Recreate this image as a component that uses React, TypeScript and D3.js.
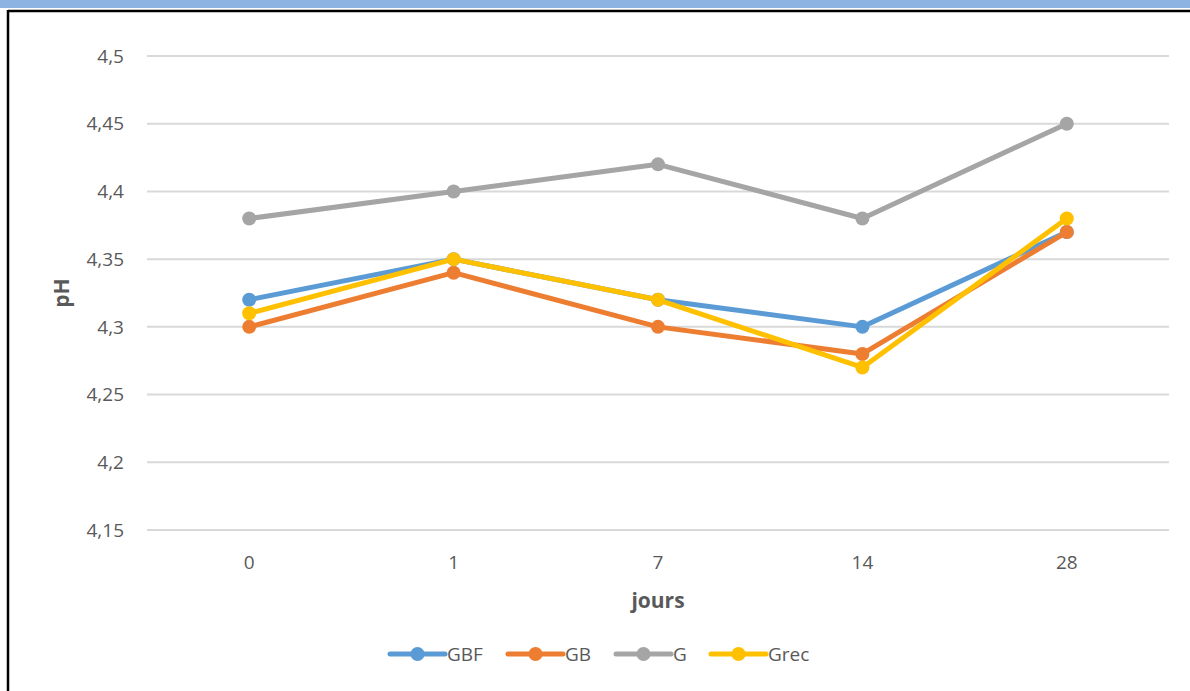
import React from "react";
import * as d3 from "d3";

// Sampling days (categorical axis)
const days = ["0", "1", "7", "14", "28"];

// pH values for each formulation
const gbf = [4.32, 4.35, 4.32, 4.3, 4.37];
const gb = [4.3, 4.34, 4.3, 4.28, 4.37];
const g = [4.38, 4.4, 4.42, 4.38, 4.45];
const grec = [4.31, 4.35, 4.32, 4.27, 4.38];

const yTicks = [4.15, 4.2, 4.25, 4.3, 4.35, 4.4, 4.45, 4.5];

const seriesNames = ["GBF", "GB", "G", "Grec"];
const seriesColors = ["#5B9BD5", "#ED7D31", "#A5A5A5", "#FFC000"];

const W = 1190;
const H = 691;
const plot = { left: 147, right: 1169, top: 56, bottom: 530 };
const font = "'Open Sans', 'Noto Sans', sans-serif";

export default function App() {
  const series = [gbf, gb, g, grec];
  const x = d3
    .scaleBand<string>()
    .domain(days)
    .range([plot.left, plot.right]);
  const y = d3.scaleLinear().domain([4.15, 4.5]).range([plot.bottom, plot.top]);
  const line = d3
    .line<number>()
    .x((_, i) => (x(days[i]) as number) + x.bandwidth() / 2)
    .y((v) => y(v));
  const fmt = (v: number) => String(+v.toFixed(2)).replace(".", ",");

  const legendX = [390, 508, 616, 711];
  const legendY = 654;

  return (
    <svg
      width={W}
      height={H}
      style={{ position: "absolute", left: 0, top: 0, background: "#fff" }}
      fontFamily={font}
    >
      <rect x={0} y={0} width={W} height={8} fill="#8DB3E2" />
      <line x1={8} x2={W} y1={11} y2={11} stroke="#000" strokeWidth={2.5} />
      <line x1={8} x2={8} y1={10} y2={H} stroke="#000" strokeWidth={2.5} />

      {yTicks.map((t) => (
        <g key={t}>
          <line
            x1={plot.left}
            x2={plot.right}
            y1={y(t)}
            y2={y(t)}
            stroke="#D9D9D9"
            strokeWidth={2}
          />
          <text
            x={124}
            y={y(t)}
            dy="0.35em"
            textAnchor="end"
            fontSize={19}
            fill="#595959"
          >
            {fmt(t)}
          </text>
        </g>
      ))}

      {days.map((d) => (
        <text
          key={d}
          x={(x(d) as number) + x.bandwidth() / 2}
          y={562}
          dy="0.35em"
          textAnchor="middle"
          fontSize={19}
          fill="#595959"
        >
          {d}
        </text>
      ))}

      <text
        x={(plot.left + plot.right) / 2}
        y={601}
        dy="0.35em"
        textAnchor="middle"
        fontSize={21}
        fontWeight="bold"
        fill="#595959"
      >
        jours
      </text>
      <text
        transform={`translate(62,${(plot.top + plot.bottom) / 2}) rotate(-90)`}
        dy="0.35em"
        textAnchor="middle"
        fontSize={21}
        fontWeight="bold"
        fill="#595959"
      >
        pH
      </text>

      {series.map((s, si) => (
        <g key={seriesNames[si]}>
          <path
            d={line(s) ?? ""}
            fill="none"
            stroke={seriesColors[si]}
            strokeWidth={5}
            strokeLinejoin="round"
            strokeLinecap="round"
          />
          {s.map((v, i) => (
            <circle
              key={i}
              cx={(x(days[i]) as number) + x.bandwidth() / 2}
              cy={y(v)}
              r={7}
              fill={seriesColors[si]}
            />
          ))}
        </g>
      ))}

      {seriesNames.map((n, i) => (
        <g key={n}>
          <line
            x1={legendX[i]}
            x2={legendX[i] + 55}
            y1={legendY}
            y2={legendY}
            stroke={seriesColors[i]}
            strokeWidth={5}
            strokeLinecap="round"
          />
          <circle cx={legendX[i] + 27.5} cy={legendY} r={7} fill={seriesColors[i]} />
          <text
            x={legendX[i] + 57}
            y={legendY}
            dy="0.35em"
            fontSize={19}
            fill="#595959"
          >
            {n}
          </text>
        </g>
      ))}
    </svg>
  );
}
